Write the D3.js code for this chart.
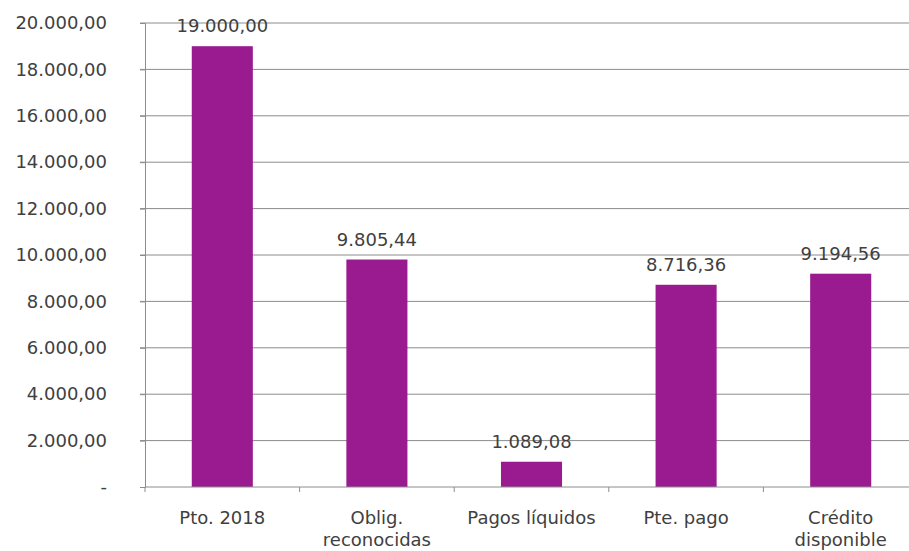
<!DOCTYPE html>
<html><head><meta charset="utf-8">
<script src="https://cdn.jsdelivr.net/npm/d3@7"></script>
<style>body{margin:0;background:#fff}svg{display:block}text{font-family:"DejaVu Sans",Verdana,sans-serif}</style>
</head><body><svg id="c" width="909" height="551"></svg>
<script>
const categories = ["Pto. 2018", "Oblig.\nreconocidas", "Pagos líquidos", "Pte. pago", "Crédito\ndisponible"];
const values = [19000.00, 9805.44, 1089.08, 8716.36, 9194.56];
const yTicks = [0, 2000, 4000, 6000, 8000, 10000, 12000, 14000, 16000, 18000, 20000];

(function() {
const svg = d3.select("#c");
const mLeft = 145, mRight = 918, mTop = 23, mBottom = 487;
const fmt = v => v === 0 ? "-" : d3.formatLocale({decimal: ",", thousands: ".", grouping: [3]}).format(",.2f")(v);

const x = d3.scaleBand().domain(categories).range([mLeft, mRight]).paddingInner(0.605).paddingOuter(0.3025);
const xb = d3.scaleBand().domain(categories).range([mLeft, mRight]).padding(0);
const y = d3.scaleLinear().domain([0, 20000]).range([mBottom, mTop]);

// gridlines
svg.append("g").selectAll("line").data(yTicks.filter(t => t > 0)).join("line")
  .attr("x1", mLeft - 5).attr("x2", mRight).attr("y1", d => y(d)).attr("y2", d => y(d))
  .attr("stroke", "#8c8c8c").attr("stroke-width", 1);

// y axis
const ya = svg.append("g").attr("transform", `translate(${mLeft},0)`)
  .call(d3.axisLeft(y).tickValues(yTicks).tickFormat(fmt).tickSize(5).tickPadding(33));
ya.select(".domain").attr("stroke", "#8c8c8c");
ya.selectAll(".tick line").attr("stroke", "#8c8c8c");
ya.selectAll("text").attr("font-size", 18).attr("fill", "#404040");

// bars
svg.append("g").selectAll("rect").data(values).join("rect")
  .attr("x", (d, i) => x(categories[i])).attr("width", x.bandwidth())
  .attr("y", d => y(d)).attr("height", d => y(0) - y(d))
  .attr("fill", "#9A1B8F");

// x axis
svg.append("line").attr("x1", mLeft).attr("x2", mRight).attr("y1", mBottom).attr("y2", mBottom).attr("stroke", "#8c8c8c");
const bounds = categories.map(c => xb(c)).concat([mRight]);
svg.append("g").selectAll("line").data(bounds).join("line")
  .attr("x1", d => d).attr("x2", d => d).attr("y1", mBottom).attr("y2", mBottom + 5).attr("stroke", "#8c8c8c");

// category labels
const cl = svg.append("g").selectAll("text").data(categories).join("text")
  .attr("x", d => x(d) + x.bandwidth() / 2).attr("y", 524)
  .attr("text-anchor", "middle").attr("font-size", 18).attr("fill", "#404040");
cl.each(function(d) {
  const lines = d.split("\n");
  d3.select(this).selectAll("tspan").data(lines).join("tspan")
    .attr("x", x(d) + x.bandwidth() / 2).attr("dy", (l, i) => i === 0 ? 0 : 22).text(l => l);
});

// value labels
svg.append("g").selectAll("text").data(values).join("text")
  .attr("x", (d, i) => x(categories[i]) + x.bandwidth() / 2).attr("y", d => y(d) - 14)
  .attr("text-anchor", "middle").attr("font-size", 18).attr("fill", "#404040")
  .text(d => fmt(d));
})();
</script></body></html>
